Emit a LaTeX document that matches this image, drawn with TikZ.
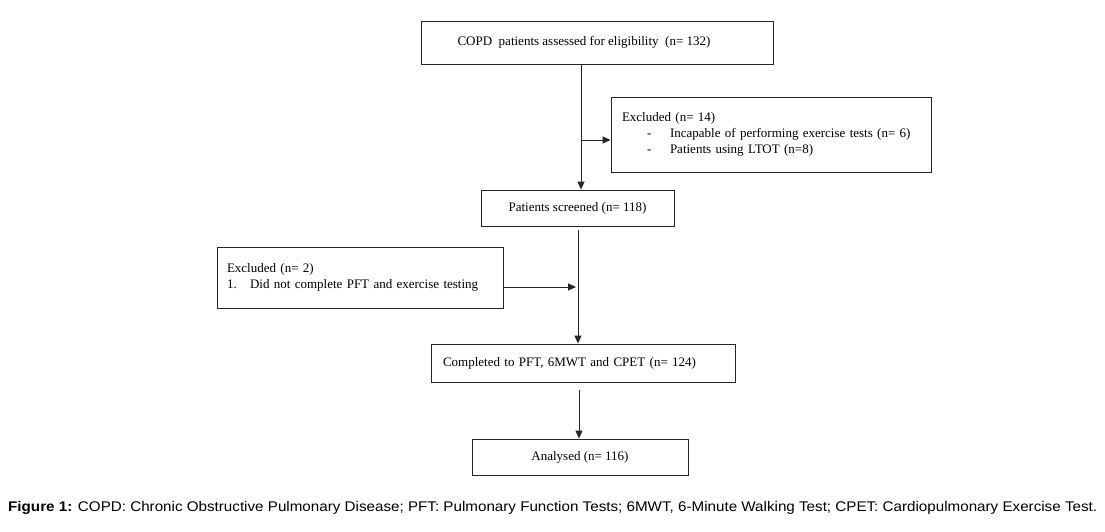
\documentclass[tikz,border=0pt]{standalone}
\usepackage{fontspec}
\setmainfont{Liberation Serif}
\newfontfamily\capfont{Liberation Sans}
\usetikzlibrary{arrows.meta}
\begin{document}
\begin{tikzpicture}[x=1pt,y=-1pt,
  box/.style={draw=black!85,line width=0.9pt,inner sep=0pt,font=\fontsize{13}{16}\selectfont},
  arr/.style={draw=black!85,line width=0.9pt,-{Triangle[length=8pt,width=7pt]}}]
\useasboundingbox[fill=white] (0,0) rectangle (1105,532);
% boxes
\node[box,minimum width=352pt,minimum height=43pt] (assess) at (597,42.5) {};
\node[font=\fontsize{13}{16}\selectfont] (assesst) at (584,42) {COPD\ \ patients assessed for eligibility\ \ (n= 132)};
\node[box,minimum width=320pt,minimum height=75pt,text width=298pt,align=left] (excl1) at (771,134.5)
  {Excluded (n= 14)\\
   \hspace*{25pt}\makebox[23pt][l]{-}Incapable of performing exercise tests (n= 6)\\
   \hspace*{25pt}\makebox[23pt][l]{-}Patients using LTOT (n=8)};
\node[box,minimum width=193pt,minimum height=36pt] (screen) at (577.5,208) {Patients screened (n= 118)};
\node[box,minimum width=286pt,minimum height=61pt,text width=266pt,align=left] (excl2) at (360,277.5)
  {Excluded (n= 2)\\
   \makebox[23pt][l]{1.}Did not complete PFT and exercise testing};
\node[box,minimum width=304pt,minimum height=38pt,text width=280pt,align=left] (compl) at (583,363)
  {Completed to PFT, 6MWT and CPET (n= 124)};
\node[box,minimum width=216pt,minimum height=36pt] (anal) at (580,457) {Analysed (n= 116)};
% connectors
\draw[arr] (assess.south -| 581,0) -- (screen.north -| 581,0);
\draw[arr] (581,140) -- (excl1.west |- 0,140);
\draw[arr] (screen.south -| 578,0) ++(0,4) -- (compl.north -| 578,0);
\draw[arr] (excl2.east |- 0,287) -- (576,287);
\draw[arr] (compl.south -| 579,0) ++(0,8) -- (anal.north -| 579,0);
% caption
\node[anchor=west,inner sep=0pt,font=\capfont\fontsize{14}{16}\selectfont] (cap) at (8,508)
  {\scalebox{1.085}[1]{\textbf{Figure 1:} COPD: Chronic Obstructive Pulmonary Disease; PFT: Pulmonary Function Tests; 6MWT, 6-Minute Walking Test; CPET: Cardiopulmonary Exercise Test.}};
\end{tikzpicture}
\end{document}
